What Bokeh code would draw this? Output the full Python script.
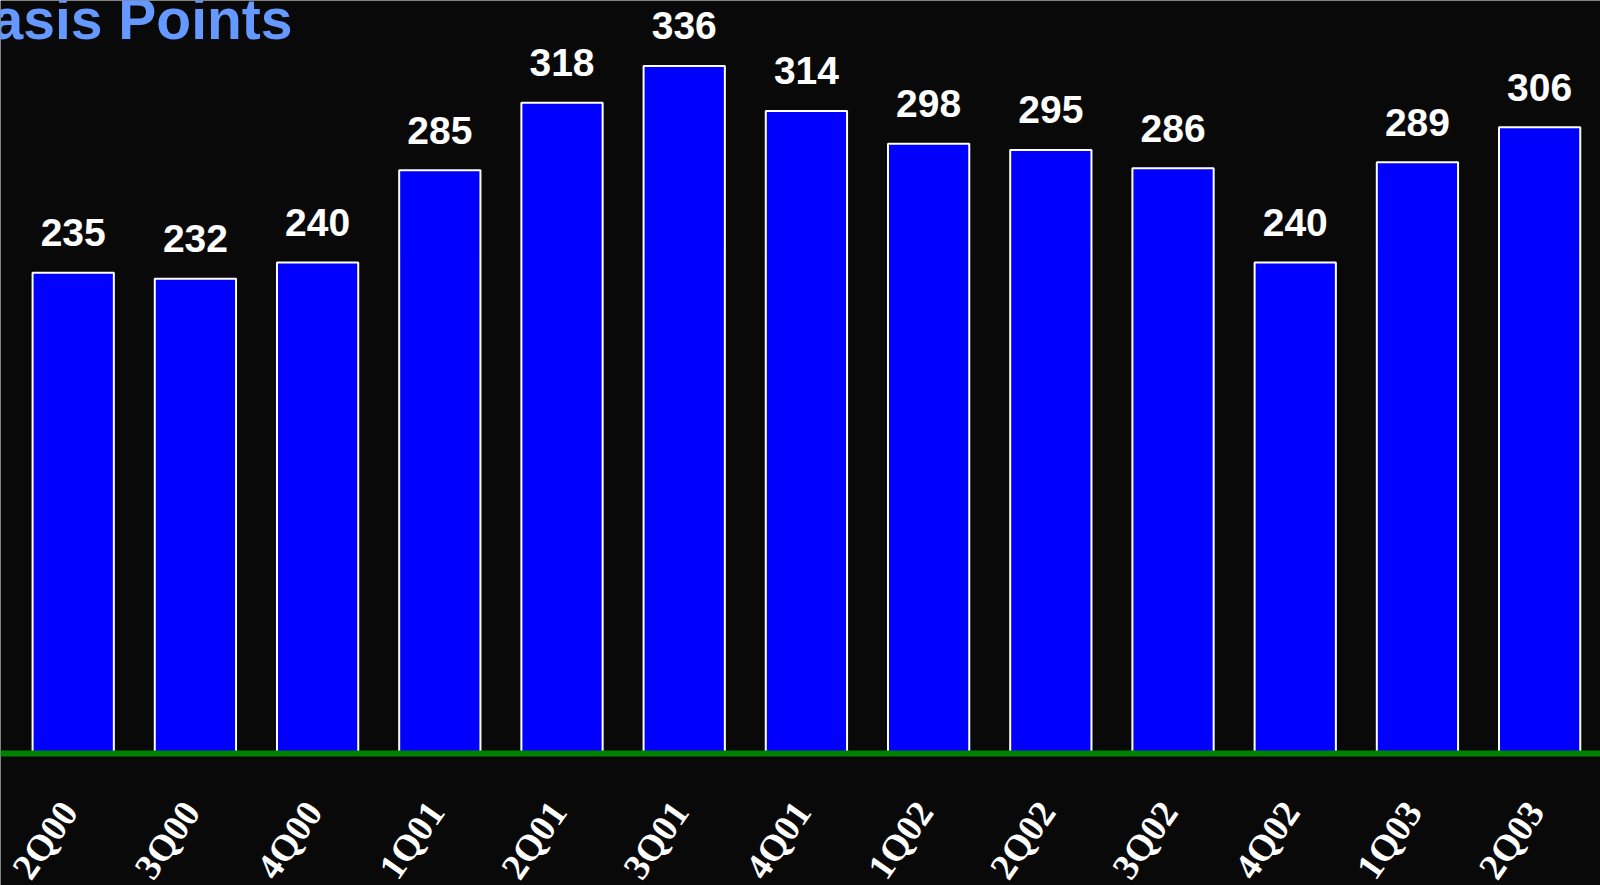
import math
from bokeh.plotting import figure
from bokeh.models import Range1d, Span, Label, ColumnDataSource
from bokeh.core.properties import value
from bokeh.embed import file_html
from bokeh.resources import INLINE

quarters = ["2Q00", "3Q00", "4Q00", "1Q01", "2Q01", "3Q01", "4Q01",
            "1Q02", "2Q02", "3Q02", "4Q02", "1Q03", "2Q03"]
basis_points = [235, 232, 240, 285, 318, 336, 314, 298, 295, 286, 240, 289, 306]
title_text = "Basis Points"

BG = "#090909"
positions = list(range(len(quarters)))
src = ColumnDataSource(dict(x=positions, y=basis_points, q=quarters,
                            zero=[0] * len(quarters),
                            label=[str(v) for v in basis_points]))

p = figure(width=1600, height=885, output_backend="svg", toolbar_location=None,
           x_range=Range1d(-0.595, 12.498), y_range=Range1d(-64.5, 368),
           min_border=0, outline_line_color=None,
           background_fill_color=BG, border_fill_color=BG)
p.grid.visible = False
p.axis.visible = False

p.vbar(x="x", top="y", bottom=0, width=0.665, source=src, fill_color="#0000FF",
       line_color="white", line_width=2)

p.add_layout(Span(location=0, dimension="width", line_color="#008000",
                  line_width=6))

# value labels
p.text(x="x", y="y", text="label", source=src, y_offset=-40,
       text_align="center", text_baseline="alphabetic",
       text_color="white", text_font=value("Liberation Sans"),
       text_font_style="bold", text_font_size="39px")

# category labels (rotated)
p.text(x="x", y="zero", text="q", source=src, x_offset=-4, y_offset=52,
       angle=math.radians(55), text_align="right", text_baseline="middle",
       text_color="white", text_font=value("Liberation Serif"),
       text_font_style="bold", text_font_size="37px")

p.add_layout(Label(x=-1.005, y=359.1, text=title_text, text_color="#6699FF",
                   text_font="Liberation Sans", text_font_style="bold",
                   text_font_size="57px", text_baseline="alphabetic"))

open("out.html", "w").write(file_html(p, INLINE))
